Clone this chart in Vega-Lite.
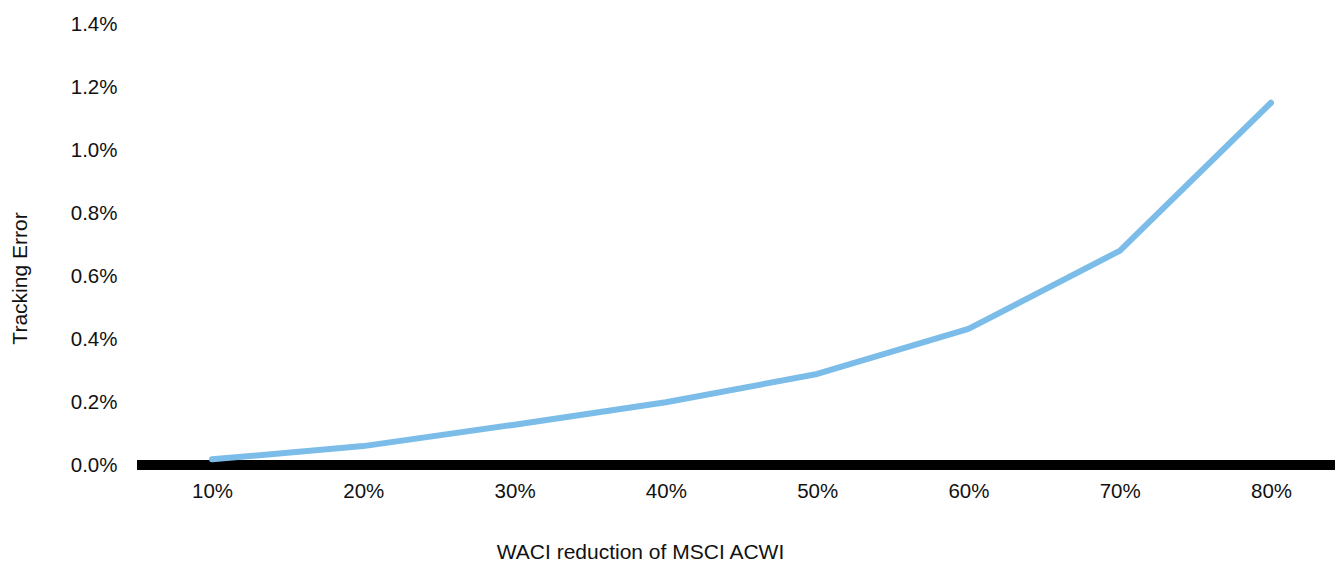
{
  "$schema": "https://vega.github.io/schema/vega-lite/v6.json",
  "autosize": {"type": "none"},
  "padding": {"left": 137, "top": 24, "right": 0, "bottom": 96},
  "width": 1198,
  "height": 441,
  "background": "white",
  "config": {
    "view": {"stroke": null},
    "font": "Liberation Sans",
    "axis": {"labelFont": "Liberation Sans", "titleFont": "Liberation Sans", "labelColor": "#111111", "titleColor": "#111111", "grid": false, "domain": false, "ticks": false, "titleFontWeight": "normal"}
  },
  "data": {
    "values": [
      {"reduction": 10, "te": 0.018},
      {"reduction": 20, "te": 0.06},
      {"reduction": 30, "te": 0.128},
      {"reduction": 40, "te": 0.199},
      {"reduction": 50, "te": 0.289},
      {"reduction": 60, "te": 0.432},
      {"reduction": 70, "te": 0.68},
      {"reduction": 80, "te": 1.15}
    ]
  },
  "layer": [
    {
      "mark": {"type": "rule", "color": "#000000", "strokeWidth": 10},
      "encoding": {"y": {"datum": 0, "type": "quantitative"}}
    },
    {
      "mark": {"type": "line", "color": "#7bbde8", "strokeWidth": 6, "strokeCap": "round", "strokeJoin": "round"},
      "encoding": {
        "x": {
          "field": "reduction",
          "type": "quantitative",
          "scale": {"domain": [5.04, 84.23], "nice": false, "zero": false},
          "axis": {
            "values": [10, 20, 30, 40, 50, 60, 70, 80],
            "labelExpr": "datum.value + '%'",
            "labelFontSize": 20.5,
            "labelPadding": 16,
            "title": "WACI reduction of MSCI ACWI",
            "titleFontSize": 21,
            "titleX": 503,
            "titleY": 87,
            "titleBaseline": "middle",
            "titleAlign": "center"
          }
        },
        "y": {
          "field": "te",
          "type": "quantitative",
          "scale": {"domain": [0, 1.4], "nice": false},
          "axis": {
            "values": [0, 0.2, 0.4, 0.6, 0.8, 1.0, 1.2, 1.4],
            "labelExpr": "format(datum.value, '.1f') + '%'",
            "labelFontSize": 20.5,
            "labelPadding": 20,
            "title": "Tracking Error",
            "titleFontSize": 21,
            "titleX": -117,
            "titleY": 254,
            "titleAngle": -90,
            "titleBaseline": "middle",
            "titleAlign": "center"
          }
        }
      }
    }
  ]
}
